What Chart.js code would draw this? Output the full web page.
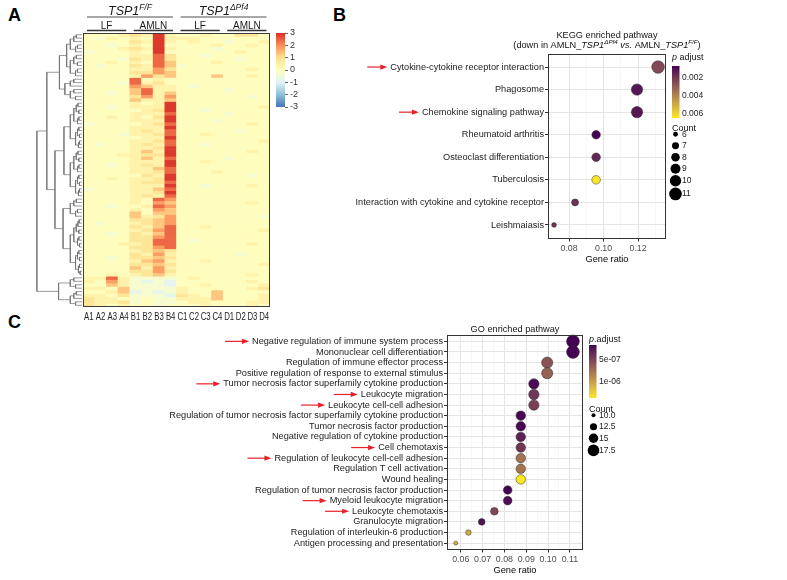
<!DOCTYPE html>
<html>
<head>
<meta charset="utf-8">
<script src="https://cdn.jsdelivr.net/npm/chart.js@4.4.1/dist/chart.umd.min.js"></script>
<style>
  body { margin: 0; background: #fff; width: 787px; height: 580px; position: relative; overflow: hidden; font-family: 'Liberation Sans', Arial, sans-serif; }
  canvas { position: absolute; }
  .tag { position: absolute; font-weight: bold; font-size: 18px; color: #000; }
</style>
</head>
<body>
<div class="tag" style="left:8px;top:5px">A</div>
<div class="tag" style="left:333px;top:5px">B</div>
<div class="tag" style="left:8px;top:312px">C</div>

<canvas id="dendro" width="46" height="274" style="left:36px;top:33px"></canvas>
<canvas id="heat" width="230" height="330" style="left:60px;top:0px"></canvas>
<canvas id="heatKey" width="45" height="90" style="left:268px;top:25px"></canvas>
<canvas id="kegg" width="400" height="249" style="left:330px;top:20px"></canvas>
<canvas id="go" width="500" height="265" style="left:150px;top:315px"></canvas>

<script>
// Panel A: heatmap of z-scores, B/C: enrichment dot plots

const FONT = "'Liberation Sans', Arial, sans-serif";

// ---- heatmap data ----
const sampleLabels = ['A1','A2','A3','A4','B1','B2','B3','B4','C1','C2','C3','C4','D1','D2','D3','D4'];
// each digit of a row is a level index into zLevels
const zLevels = [-1.2, -0.8, -0.3, 0.05, 0.4, 0.8, 1.3, 1.8, 2.4, 2.9];
const heatRows = [
  '3334549433433553','3243439444333333','3333549434332334','3323439333343343',
  '3334549433323333','2333439333333433','3333448533233333','3332548533333233',
  '3343438633343333','3233548623333333','3333447533333343','3333557633333333',
  '3333475633363343','3333834333333333','3332845333333333','3333764432333333',
  '3333684433332333','3323684633333333','3333574733333323','3333644633333333',
  '3333434933333333','3323444933333334','3333345933233333','3333444833332333',
  '3343435933333333','3333444933323333','2333345833333343','3333444933333333',
  '3333454833333233','3332445833433333','3333344933333333','3333445833333334',
  '3233454833233333','3333445933333333','3333464933333343','3334455933333333',
  '3333464833332333','3333444933433333','3323454933333333','3333446833333333',
  '3333445833343333','3333354933333323','3343445933333333','3333455833333333',
  '3333444933233343','2333446833333333','3333445933333333','3333454833333333',
  '3333438733333333','3333437633333343','3323348733333333','3333437633333333',
  '3333636633333333','3333645733333332','3333556733333333','3233456733333333',
  '3333546833433333','3333457833333334','3323546833333333','3333557833333333',
  '3333558832333333','3334458833333343','3333557833333333','3333456533333333',
  '3333547433333233','3323556533333333','3333467433433333','3333556533333334',
  '3333647433333333','3333557533333333','3343456433333343','4484222234333333',
  '4374212133333343','3364222133433334','4436222243333345','3346121243363333',
  '4435222154363334','5443232244463334','5445232234433344','5434332333433343'
];
const heatKeyTicks = [-3, -2, -1, 0, 1, 2, 3];
const rdylbu = ['#4575B4', '#91BFDB', '#E0F3F8', '#FFFFBF', '#FEE090', '#FC8D59', '#D73027'];

const genotypeGroups = [
  { parts: [{ t: 'TSP1', it: true }, { t: 'F/F', it: true, sup: true }], from: 0, to: 7 },
  { parts: [{ t: 'TSP1', it: true }, { t: '\u0394Pf4', it: true, sup: true }], from: 8, to: 15 }
];
const dietGroups = [
  { t: 'LF', from: 0, to: 3 }, { t: 'AMLN', from: 4, to: 7 },
  { t: 'LF', from: 8, to: 11 }, { t: 'AMLN', from: 12, to: 15 }
];

// dendrogram: [height, left, right]; [first,last] = row block
const dendroTree = [1.0,
  [0.78,
    [0.5, [0.34, [0, 5], [6, 12]], [0.38, [13, 15], [16, 19]]],
    [0.6, [0.4, [20, 33], [34, 47]], [0.42, [48, 53], [54, 70]]]],
  [0.52, [71, 74], [75, 79]]
];

// ---- KEGG data ----
const keggPathways = ['Cytokine-cytokine receptor interaction', 'Phagosome', 'Chemokine signaling pathway',
  'Rheumatoid arthritis', 'Osteoclast differentiation', 'Tuberculosis',
  'Interaction with cytokine and cytokine receptor', 'Leishmaiasis'];
const keggRatio = [0.1316, 0.1194, 0.1194, 0.0957, 0.0957, 0.0957, 0.0835, 0.0713];
const keggCount = [11, 10, 10, 8, 8, 8, 7, 6];
const keggPadj = [0.0024, 0.0011, 0.0011, 0.00063, 0.0015, 0.0065, 0.0018, 0.0019];
const keggArrows = [0, 2];
const keggXTicks = [0.08, 0.10, 0.12];
const keggCountBreaks = [6, 7, 8, 9, 10, 11];
const keggCountLabels = ['6', '7', '8', '9', '10', '11'];
const keggPBreaks = [0.002, 0.004, 0.006];
const keggPLabels = ['0.002', '0.004', '0.006'];

// ---- GO data ----
const goTerms = ['Negative regulation of immune system process', 'Mononuclear cell differentiation',
  'Regulation of immune effector process', 'Positive regulation of response to external stimulus',
  'Tumor necrosis factor superfamily cytokine production', 'Leukocyte migration', 'Leukocyte cell-cell adhesion',
  'Regulation of tumor necrosis factor superfamily cytokine production', 'Tumor necrosis factor production',
  'Negative regulation of cytokine production', 'Cell chemotaxis', 'Regulation of leukocyte cell-cell adhesion',
  'Regulation T cell activation', 'Wound healing', 'Regulation of tumor necrosis factor production',
  'Myeloid leukocyte migration', 'Leukocyte chemotaxis', 'Granulocyte migration',
  'Regulation of interleukin-6 production', 'Antigen processing and presentation'];
const goRatio = [0.1114, 0.1114, 0.0996, 0.0996, 0.0935, 0.0935, 0.0935, 0.0875, 0.0875, 0.0875,
  0.0875, 0.0875, 0.0875, 0.0875, 0.0815, 0.0815, 0.0754, 0.0696, 0.0635, 0.0577];
const goCount = [19, 19, 17, 17, 16, 16, 16, 15, 15, 15, 15, 15, 15, 15, 14, 14, 13, 12, 11, 10];
const goPadj = [1.6e-7, 1.7e-7, 5.8e-7, 6.6e-7, 2.0e-7, 4.2e-7, 4.6e-7, 1.8e-7, 1.9e-7, 3.0e-7,
  4.2e-7, 7.6e-7, 7.6e-7, 1.36e-6, 1.7e-7, 2.1e-7, 5.2e-7, 2.3e-7, 1.06e-6, 1.08e-6];
const goArrows = [0, 4, 5, 6, 10, 11, 15, 16];
const goXTicks = [0.06, 0.07, 0.08, 0.09, 0.10, 0.11];
const goCountBreaks = [10, 12.5, 15, 17.5];
const goCountLabels = ['10.0', '12.5', '15', '17.5'];
const goPBreaks = [5e-7, 1e-6];
const goPLabels = ['5e-07', '1e-06'];

const pLow = '#440154', pHigh = '#FDE725';

Chart.defaults.font.family = FONT;
Chart.defaults.animation = false;
Chart.defaults.events = [];
Chart.defaults.plugins.legend.display = false;
Chart.defaults.plugins.tooltip.enabled = false;

// ---- colour helpers ----
function hex2rgb(h) { const n = parseInt(h.slice(1), 16); return [n >> 16 & 255, n >> 8 & 255, n & 255]; }

function zColor(z) {
  const t = Math.max(0, Math.min(1, (z + 3) / 6)) * (rdylbu.length - 1);
  const i = Math.min(Math.floor(t), rdylbu.length - 2), f = t - i;
  const a = hex2rgb(rdylbu[i]), b = hex2rgb(rdylbu[i + 1]);
  return 'rgb(' + a.map((v, k) => Math.round(v + (b[k] - v) * f)).join(',') + ')';
}

function toLab([r, g, b]) {
  const f = c => { c /= 255; return c <= 0.04045 ? c / 12.92 : Math.pow((c + 0.055) / 1.055, 2.4); };
  const R = f(r), G = f(g), B = f(b);
  const X = (0.4124 * R + 0.3576 * G + 0.1805 * B) / 0.95047;
  const Y = 0.2126 * R + 0.7152 * G + 0.0722 * B;
  const Z = (0.0193 * R + 0.1192 * G + 0.9505 * B) / 1.08883;
  const q = t => t > 0.008856 ? Math.cbrt(t) : 7.787 * t + 16 / 116;
  return [116 * q(Y) - 16, 500 * (q(X) - q(Y)), 200 * (q(Y) - q(Z))];
}
function fromLab([L, a, b]) {
  const fy = (L + 16) / 116, fx = fy + a / 500, fz = fy - b / 200;
  const h = t => t * t * t > 0.008856 ? t * t * t : (t - 16 / 116) / 7.787;
  const X = h(fx) * 0.95047, Y = h(fy), Z = h(fz) * 1.08883;
  const R = 3.2406 * X - 1.5372 * Y - 0.4986 * Z;
  const G = -0.9689 * X + 1.8758 * Y + 0.0415 * Z;
  const B = 0.0557 * X - 0.2040 * Y + 1.0570 * Z;
  const s = c => Math.round(255 * Math.min(1, Math.max(0, c <= 0.0031308 ? 12.92 * c : 1.055 * Math.pow(c, 1 / 2.4) - 0.055)));
  return 'rgb(' + s(R) + ',' + s(G) + ',' + s(B) + ')';
}
const labLow = toLab(hex2rgb(pLow)), labHigh = toLab(hex2rgb(pHigh));
function pColor(t) { return fromLab(labLow.map((v, i) => v + (labHigh[i] - v) * t)); }

// ---- text helpers ----
function partFont(p, size) { return (p.it ? 'italic ' : '') + (p.sup ? size * 0.68 : size) + 'px ' + FONT; }
function drawRich(ctx, parts, cx, y, size, color) {
  let w = 0;
  parts.forEach(p => { ctx.font = partFont(p, size); w += ctx.measureText(p.t).width; });
  let x = cx - w / 2;
  ctx.textAlign = 'left';
  ctx.textBaseline = 'alphabetic';
  ctx.fillStyle = color;
  parts.forEach(p => {
    ctx.font = partFont(p, size);
    ctx.fillText(p.t, x, p.sup ? y - size * 0.4 : y);
    x += ctx.measureText(p.t).width;
  });
}

// ---- dendrogram ----
const dendroSegs = [];
function join(L, R, h) {
  dendroSegs.push([{ x: L.h, y: L.y }, { x: h, y: L.y }, { x: h, y: R.y }, { x: R.h, y: R.y }]);
}
function expand(a, b, h) {
  if (a === b) return { y: a + 0.5, h: 0 };
  const m = Math.floor((a + b) / 2);
  const L = expand(a, m, h * 0.7), R = expand(m + 1, b, h * 0.55);
  join(L, R, h);
  return { y: (L.y + R.y) / 2, h: h };
}
function place(node) {
  if (node.length === 2) return expand(node[0], node[1], 0.26);
  const L = place(node[1]), R = place(node[2]);
  join(L, R, node[0]);
  return { y: (L.y + R.y) / 2, h: node[0] };
}
place(dendroTree);

new Chart(document.getElementById('dendro'), {
  type: 'scatter',
  data: {
    datasets: dendroSegs.map(seg => ({
      data: seg, showLine: true, borderColor: '#6e6e6e', borderWidth: 0.7,
      pointRadius: 0, clip: false
    }))
  },
  options: {
    responsive: false,
    layout: { padding: 0 },
    scales: {
      x: { type: 'linear', display: false, min: 0, max: 1.02, reverse: true },
      y: { type: 'linear', display: false, min: 0, max: heatRows.length, reverse: true }
    }
  }
});

// ---- heatmap ----
const heatZ = heatRows.map(s => s.split('').map(ch => zLevels[+ch]));

const heatHeader = {
  id: 'heatHeader',
  afterDraw(chart) {
    const { ctx, chartArea: a, scales: { x } } = chart;
    const half = (a.right - a.left) / sampleLabels.length / 2;
    ctx.save();
    ctx.strokeStyle = '#3a3a3a';
    ctx.lineWidth = 1;
    ctx.strokeRect(a.left + 0.5, a.top + 0.5, a.right - a.left - 1, a.bottom - a.top - 1);

    genotypeGroups.forEach(g => {
      const x0 = x.getPixelForValue(g.from) - half + 4, x1 = x.getPixelForValue(g.to) + half - 3.5;
      ctx.strokeStyle = '#8a8a8a';
      ctx.lineWidth = 1.5;
      ctx.beginPath(); ctx.moveTo(x0, 17); ctx.lineTo(x1, 17); ctx.stroke();
      drawRich(ctx, g.parts, (x0 + x1) / 2, 14.5, 12.5, '#1a1a1a');
    });
    dietGroups.forEach(g => {
      const x0 = x.getPixelForValue(g.from) - half + 4, x1 = x.getPixelForValue(g.to) + half - 3.5;
      ctx.strokeStyle = '#333';
      ctx.lineWidth = 1.5;
      ctx.beginPath(); ctx.moveTo(x0, 30.5); ctx.lineTo(x1, 30.5); ctx.stroke();
      ctx.font = '10px ' + FONT;
      ctx.fillStyle = '#1a1a1a';
      ctx.textAlign = 'center';
      ctx.textBaseline = 'alphabetic';
      ctx.fillText(g.t, (x0 + x1) / 2, 28.5);
    });

    // sample labels, set in a condensed face like the original
    ctx.font = '10.5px ' + FONT;
    ctx.fillStyle = '#222';
    ctx.textAlign = 'center';
    sampleLabels.forEach((lab, i) => {
      ctx.save();
      ctx.translate(x.getPixelForValue(i), a.bottom + 13);
      ctx.scale(0.74, 1);
      ctx.fillText(lab, 0, 0);
      ctx.restore();
    });
    ctx.restore();
  }
};

new Chart(document.getElementById('heat'), {
  type: 'bar',
  data: {
    labels: sampleLabels,
    datasets: heatZ.map(row => ({
      data: row.map(() => 1),
      backgroundColor: row.map(zColor),
      borderWidth: 0,
      barPercentage: 1,
      categoryPercentage: 1
    }))
  },
  options: {
    responsive: false,
    layout: { padding: { left: 23, right: 20, top: 33 } },
    scales: {
      x: {
        stacked: true,
        grid: { display: false, drawTicks: false },
        border: { display: false },
        ticks: { display: false },
        afterFit(s) { s.height = 23; }
      },
      y: { stacked: true, display: false, min: 0, max: heatRows.length, reverse: true }
    }
  },
  plugins: [heatHeader]
});

// colour key of heatmap
new Chart(document.getElementById('heatKey'), {
  type: 'bar',
  data: {
    labels: [''],
    datasets: [{
      data: [[heatKeyTicks[0], heatKeyTicks[heatKeyTicks.length - 1]]],
      backgroundColor(c) {
        const a = c.chart.chartArea;
        if (!a) return '#FFFFBF';
        const g = c.chart.ctx.createLinearGradient(0, a.bottom, 0, a.top);
        rdylbu.forEach((col, i) => g.addColorStop(i / (rdylbu.length - 1), col));
        return g;
      },
      borderWidth: 0,
      barPercentage: 1,
      categoryPercentage: 1
    }]
  },
  options: {
    responsive: false,
    layout: { padding: { left: 8, top: 8, bottom: 8 } },
    scales: {
      x: { display: false },
      y: {
        position: 'right', min: -3, max: 3,
        afterBuildTicks(s) { s.ticks = heatKeyTicks.map(v => ({ value: v })); },
        ticks: { autoSkip: false, color: '#333', font: { size: 9 }, padding: 2 },
        grid: { drawOnChartArea: false, tickLength: 3, tickColor: '#666' },
        border: { display: false },
        afterFit(s) { s.width = 28; }
      }
    }
  }
});

// ---- dot plots ----
function dotPlot(id, d) {
  const n = d.labels.length;
  const cMin = Math.min(...d.count), cMax = Math.max(...d.count);
  const pMin = Math.min(...d.padj), pMax = Math.max(...d.padj);
  const rad = c => d.rMin + (d.rMax - d.rMin) * Math.pow(Math.max(0, (c - cMin) / (cMax - cMin)), 0.8);
  const pT = p => (p - pMin) / (pMax - pMin);
  const step = d.xTicks[1] - d.xTicks[0];
  const gridVals = [];
  d.xTicks.forEach(v => { gridVals.push(v - step / 2, v); });
  gridVals.push(d.xTicks[d.xTicks.length - 1] + step / 2);
  const xVals = gridVals.filter(v => v > d.xMin && v < d.xMax);
  const isMajor = v => d.xTicks.some(m => Math.abs(m - v) < 1e-9);

  const deco = {
    id: 'deco',
    afterDraw(chart) {
      const { ctx, chartArea: a, scales: { y } } = chart;
      ctx.save();
      // panel border
      ctx.strokeStyle = '#333';
      ctx.lineWidth = 1;
      ctx.strokeRect(Math.round(a.left) + 0.5, Math.round(a.top) + 0.5, Math.round(a.right - a.left) - 1, Math.round(a.bottom - a.top) - 1);

      // title
      const cx = (a.left + a.right) / 2;
      d.title.forEach(line => drawRich(ctx, line.parts, cx, a.top + line.dy, 9.2, '#111'));

      // red arrows
      ctx.font = d.labelSize + 'px ' + FONT;
      d.arrows.forEach(i => {
        const w = ctx.measureText(d.labels[i]).width;
        const yy = y.getPixelForValue(i);
        const x1 = a.left - 4 - w - 3, x0 = x1 - d.arrowLen;
        ctx.strokeStyle = '#e8202a';
        ctx.fillStyle = '#e8202a';
        ctx.lineWidth = 1.2;
        ctx.beginPath(); ctx.moveTo(x0, yy); ctx.lineTo(x1 - 5, yy); ctx.stroke();
        ctx.beginPath(); ctx.moveTo(x1, yy); ctx.lineTo(x1 - 7, yy - 2.6); ctx.lineTo(x1 - 7, yy + 2.6); ctx.closePath(); ctx.fill();
      });

      // colour legend
      const lx = a.right + 6, L = d.legend;
      ctx.fillStyle = '#111';
      let tx = lx;
      d.pTitle.forEach(p => {
        ctx.font = (p.it ? 'italic ' : '') + '9px ' + FONT;
        ctx.textAlign = 'left'; ctx.textBaseline = 'alphabetic';
        ctx.fillText(p.t, tx, a.top + L.titleY);
        tx += ctx.measureText(p.t).width;
      });
      const bt = a.top + L.barTop, bh = L.barH, bw = 7.5;
      const g = ctx.createLinearGradient(0, bt, 0, bt + bh);
      for (let k = 0; k <= 10; k++) g.addColorStop(k / 10, pColor(k / 10));
      ctx.fillStyle = g;
      ctx.fillRect(lx, bt, bw, bh);
      ctx.font = '8.5px ' + FONT;
      ctx.fillStyle = '#222';
      ctx.textBaseline = 'middle';
      d.pBreaks.forEach((p, i) => ctx.fillText(d.pLabels[i], lx + bw + 2.5, bt + pT(p) * bh));

      // size legend
      ctx.font = '9px ' + FONT;
      ctx.textBaseline = 'alphabetic';
      ctx.fillStyle = '#111';
      ctx.fillText('Count', lx, a.top + L.countY);
      let yy = a.top + L.countY - 2;
      d.countBreaks.forEach((c, i) => {
        const r = rad(c), h = Math.max(2 * r + 1.2, 11.5);
        const yc = yy + h / 2;
        ctx.fillStyle = '#000';
        ctx.beginPath(); ctx.arc(lx + d.countDotDx, yc, r, 0, Math.PI * 2); ctx.fill();
        ctx.font = '8.5px ' + FONT;
        ctx.fillStyle = '#222';
        ctx.textBaseline = 'middle';
        ctx.fillText(d.countLabels[i], lx + d.countDotDx + d.countTextDx, yc);
        yy += h;
      });
      ctx.restore();
    }
  };

  return new Chart(document.getElementById(id), {
    type: 'bubble',
    data: {
      datasets: [{
        data: d.labels.map((_, i) => ({ x: d.ratio[i], y: i, r: rad(d.count[i]) })),
        backgroundColor: c => pColor(pT(d.padj[c.dataIndex])),
        borderColor: '#2a2a2a',
        borderWidth: 0.5,
        clip: false
      }]
    },
    options: {
      responsive: false,
      layout: { padding: d.padding },
      scales: {
        x: {
          type: 'linear', min: d.xMin, max: d.xMax,
          afterBuildTicks(s) { s.ticks = xVals.map(v => ({ value: v })); },
          ticks: {
            autoSkip: false, maxRotation: 0, padding: 2, color: '#4d4d4d', font: { size: 8.8 },
            callback: v => isMajor(v) ? v.toFixed(2) : ''
          },
          grid: {
            color: c => c.tick && isMajor(c.tick.value) ? '#e4e4e4' : '#f1f1f1',
            lineWidth: c => c.tick && isMajor(c.tick.value) ? 1 : 0.6,
            tickColor: c => c.tick && isMajor(c.tick.value) ? '#333' : 'rgba(0,0,0,0)',
            tickLength: 3
          },
          border: { display: false },
          title: { display: true, text: 'Gene ratio', color: '#000', font: { size: 9.2 }, padding: { top: 2, bottom: 4 } },
          afterFit(s) { s.height = d.xAxisH; }
        },
        y: {
          type: 'linear', min: -0.6, max: n - 0.4, reverse: true,
          afterBuildTicks(s) { s.ticks = d.labels.map((_, i) => ({ value: i })); },
          ticks: { autoSkip: false, padding: 1, color: '#222', font: { size: d.labelSize }, callback: v => d.labels[v] },
          grid: { color: '#e4e4e4', lineWidth: 1, tickLength: 3, tickColor: '#333' },
          border: { display: false },
          afterFit(s) { s.width = d.yAxisW; }
        }
      }
    },
    plugins: [deco]
  });
}

dotPlot('kegg', {
  labels: keggPathways, ratio: keggRatio, count: keggCount, padj: keggPadj, arrows: keggArrows,
  xTicks: keggXTicks, xMin: 0.0678, xMax: 0.1362,
  rMin: 2.4, rMax: 6.3, labelSize: 9.2, arrowLen: 20,
  padding: { top: 33.5, right: 64, left: 0, bottom: 0 }, yAxisW: 218, xAxisH: 30.5,
  title: [
    { dy: -15.5, parts: [{ t: 'KEGG enriched pathway' }] },
    { dy: -5.5, parts: [{ t: '(down in AMLN_' }, { t: 'TSP1', it: true }, { t: '\u0394Pf4', it: true, sup: true },
      { t: ' ' }, { t: 'vs.', it: true }, { t: ' AMLN_' }, { t: 'TSP1', it: true }, { t: 'F/F', it: true, sup: true }, { t: ')' }] }
  ],
  pTitle: [{ t: 'p', it: true }, { t: ' adjust' }],
  pBreaks: keggPBreaks, pLabels: keggPLabels,
  countBreaks: keggCountBreaks, countLabels: keggCountLabels, countDotDx: 3.5, countTextDx: 6.5,
  legend: { titleY: 6, barTop: 12.5, barH: 52, countY: 77 }
});

dotPlot('go', {
  labels: goTerms, ratio: goRatio, count: goCount, padj: goPadj, arrows: goArrows,
  xTicks: goXTicks, xMin: 0.0537, xMax: 0.1160,
  rMin: 2.0, rMax: 6.4, labelSize: 9.2, arrowLen: 24,
  padding: { top: 20, right: 67, left: 0, bottom: 0 }, yAxisW: 297, xAxisH: 30.5,
  title: [{ dy: -3.5, parts: [{ t: 'GO enriched pathway' }] }],
  pTitle: [{ t: 'p', it: true }, { t: '.adjust' }],
  pBreaks: goPBreaks, pLabels: goPLabels,
  countBreaks: goCountBreaks, countLabels: goCountLabels, countDotDx: 4.5, countTextDx: 5.5,
  legend: { titleY: 6.5, barTop: 10, barH: 53, countY: 76.5 }
});
</script>
</body>
</html>
